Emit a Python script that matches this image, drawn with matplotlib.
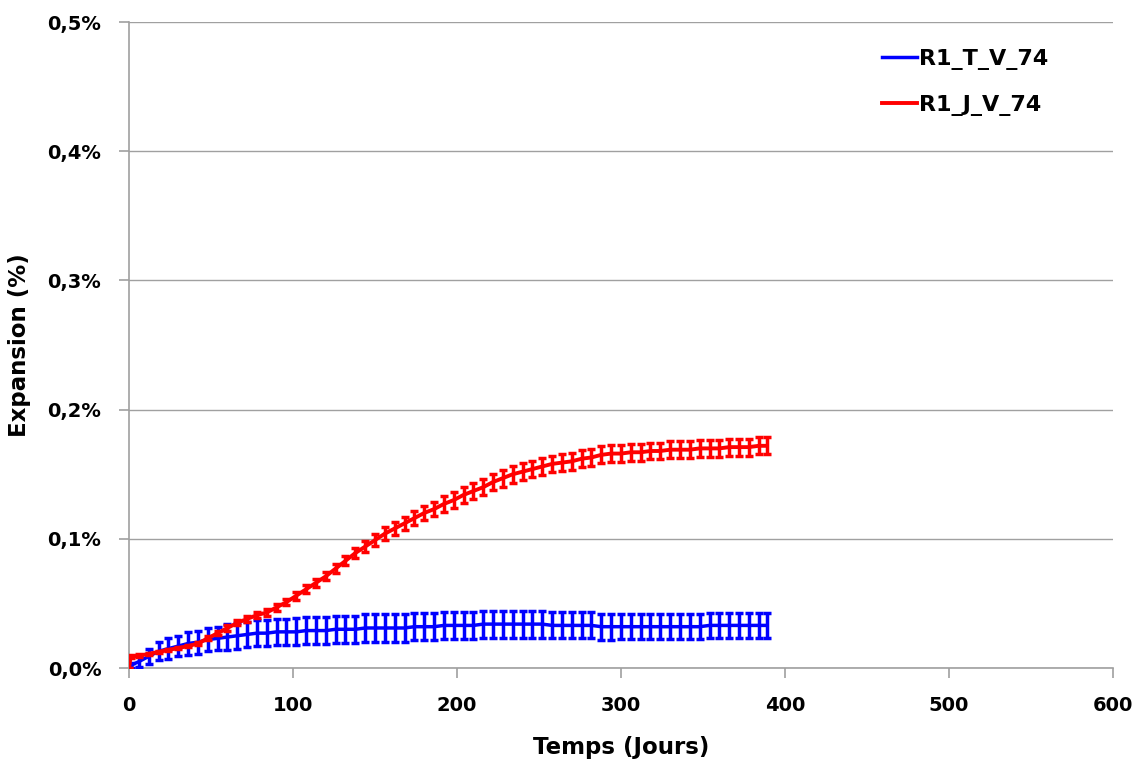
import matplotlib
matplotlib.use("Agg")
import matplotlib.pyplot as plt
from matplotlib.ticker import FuncFormatter


days = [0, 1, 6, 12, 18, 24, 30, 36, 42, 48, 54, 60, 66, 72, 78, 84, 90, 96,
        102, 108, 114, 120, 126, 132, 138, 144, 150, 156, 162, 168, 174, 180,
        186, 192, 198, 204, 210, 216, 222, 228, 234, 240, 246, 252, 258, 264,
        270, 276, 282, 288, 294, 300, 306, 312, 318, 324, 330, 336, 342, 348,
        354, 360, 366, 372, 378, 384, 389]

# R1_T_V_74 (blue)
t_mean = [0.000, 0.002, 0.005, 0.009, 0.013, 0.015, 0.017, 0.019, 0.020, 0.022,
          0.023, 0.024, 0.025, 0.026, 0.027, 0.027, 0.028, 0.028, 0.028, 0.029,
          0.029, 0.029, 0.030, 0.030, 0.030, 0.031, 0.031, 0.031, 0.031, 0.031,
          0.032, 0.032, 0.032, 0.033, 0.033, 0.033, 0.033, 0.034, 0.034, 0.034,
          0.034, 0.034, 0.034, 0.034, 0.033, 0.033, 0.033, 0.033, 0.033, 0.032,
          0.032, 0.032, 0.032, 0.032, 0.032, 0.032, 0.032, 0.032, 0.032, 0.032,
          0.033, 0.033, 0.033, 0.033, 0.033, 0.033, 0.033]
t_err = [0.001, 0.002, 0.004, 0.006, 0.007, 0.008, 0.008, 0.009, 0.009, 0.009,
         0.009, 0.010, 0.010, 0.010, 0.010, 0.010, 0.010, 0.010, 0.0105, 0.0105,
         0.0105, 0.0105, 0.0105, 0.0105, 0.0105, 0.0105, 0.0105, 0.0105, 0.0105, 0.0105,
         0.0105, 0.0105, 0.0105, 0.0105, 0.0105, 0.0105, 0.0105, 0.0105, 0.0105, 0.0105,
         0.0105, 0.0105, 0.0105, 0.0105, 0.010, 0.010, 0.010, 0.010, 0.010, 0.010,
         0.010, 0.0095, 0.0095, 0.0095, 0.0095, 0.0095, 0.0095, 0.0095, 0.0095, 0.0095,
         0.0095, 0.0095, 0.0095, 0.0095, 0.0095, 0.0095, 0.0095]

# R1_J_V_74 (red)
j_mean = [0.000, 0.009, 0.0095, 0.011, 0.0125, 0.014, 0.0155, 0.017, 0.019, 0.023,
          0.027, 0.031, 0.035, 0.038, 0.041, 0.043, 0.047, 0.051, 0.056, 0.061,
          0.066, 0.071, 0.077, 0.083, 0.089, 0.094, 0.099, 0.104, 0.108, 0.112,
          0.116, 0.120, 0.123, 0.127, 0.130, 0.134, 0.137, 0.140, 0.144, 0.147,
          0.150, 0.152, 0.154, 0.156, 0.158, 0.159, 0.160, 0.162, 0.163, 0.165,
          0.166, 0.166, 0.167, 0.167, 0.168, 0.168, 0.169, 0.169, 0.169, 0.170,
          0.170, 0.170, 0.171, 0.171, 0.171, 0.172, 0.172]
j_err = [0.000, 0.001, 0.001, 0.001, 0.001, 0.001, 0.001, 0.001, 0.0015, 0.0015,
         0.0015, 0.002, 0.002, 0.002, 0.002, 0.0025, 0.0025, 0.0025, 0.003, 0.003,
         0.003, 0.003, 0.0035, 0.0035, 0.004, 0.004, 0.0045, 0.005, 0.005, 0.005,
         0.0055, 0.0055, 0.0055, 0.006, 0.006, 0.006, 0.006, 0.006, 0.006, 0.0065,
         0.0065, 0.0065, 0.0065, 0.0065, 0.0065, 0.0065, 0.0065, 0.0065, 0.0065, 0.0065,
         0.0065, 0.0065, 0.0065, 0.0065, 0.0065, 0.0065, 0.0065, 0.0065, 0.0065, 0.0065,
         0.0065, 0.0065, 0.0065, 0.0065, 0.0065, 0.0065, 0.0065]

x_ticks = [0, 100, 200, 300, 400, 500, 600]
y_ticks = [0.0, 0.1, 0.2, 0.3, 0.4, 0.5]

plt.rcParams['font.family'] = ['DejaVu Sans']
plt.rcParams['font.weight'] = 'bold'

fig = plt.figure(figsize=(11.42, 7.6), dpi=100)
ax = fig.add_axes([0.113, 0.121, 0.8615, 0.85])

ax.errorbar(days, t_mean, yerr=t_err, color='#0000ff', lw=2.5, elinewidth=2.5,
            capsize=3, capthick=2.5, label='R1_T_V_74', zorder=3)
ax.errorbar(days, j_mean, yerr=j_err, color='#ff0000', lw=2.8, elinewidth=2.5,
            capsize=3, capthick=2.5, label='R1_J_V_74', zorder=4)

ax.set_xlim(0, 600)
ax.set_ylim(0, 0.5)
ax.set_xticks(x_ticks)
ax.set_yticks(y_ticks)
ax.yaxis.set_major_formatter(FuncFormatter(lambda v, p: f"{v:.1f}%".replace('.', ',')))

ax.grid(axis='y', color='#a0a0a0', lw=1)
ax.set_axisbelow(True)
for s in ['top', 'right']:
    ax.spines[s].set_visible(False)
for s in ['left', 'bottom']:
    ax.spines[s].set_color('#a0a0a0')
    ax.spines[s].set_linewidth(1.2)
ax.tick_params(colors='#a0a0a0', length=7, width=1.2, labelcolor='black',
               labelsize=14, pad=13)
for lbl in ax.get_xticklabels() + ax.get_yticklabels():
    lbl.set_fontweight('bold')

ax.set_xlabel('Temps (Jours)', fontsize=16.5, fontweight='bold', labelpad=15)
ax.set_ylabel('Expansion (%)', fontsize=16.5, fontweight='bold', labelpad=12)

handles, labels = ax.get_legend_handles_labels()
handles = [h[0] for h in handles]
leg = ax.legend(handles, labels, loc='upper right', bbox_to_anchor=(0.955, 0.99),
                frameon=False, fontsize=16, handlelength=1.6, handletextpad=0.1,
                labelspacing=1.15)
for t in leg.get_texts():
    t.set_fontweight('bold')

fig.savefig('out.png', dpi=100)
